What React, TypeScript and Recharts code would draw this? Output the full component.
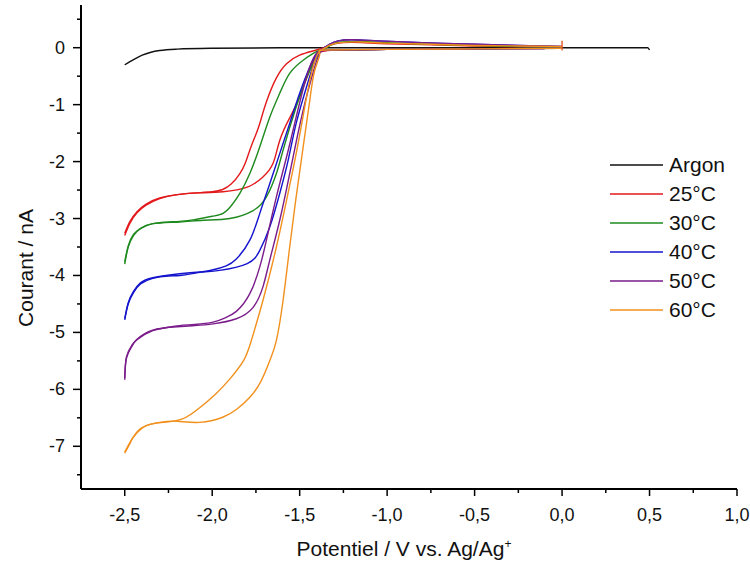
import React from "react";
import { LineChart, Line, XAxis, YAxis } from "recharts";

// potential (V vs Ag/Ag+), current (nA); branch "a" = upper/left loop, "b" = lower/right
const argon = [
  [-2.5, -0.3], [-2.45, -0.21], [-2.4, -0.13], [-2.35, -0.08], [-2.3, -0.05],
  [-2.2, -0.025], [-2.0, -0.01], [-1.5, 0], [-1.0, 0], [-0.5, 0], [0, 0], [0.49, 0], [0.5, -0.04],
];

const c25a = [
  [-2.5, -3.3], [-2.47, -3.08], [-2.43, -2.9], [-2.38, -2.77], [-2.3, -2.65], [-2.2, -2.58],
  [-2.1, -2.55], [-2.0, -2.53], [-1.94, -2.49], [-1.89, -2.39], [-1.842, -2.21], [-1.81, -2.02],
  [-1.785, -1.8], [-1.755, -1.56], [-1.728, -1.33], [-1.69, -0.95], [-1.633, -0.53], [-1.575, -0.28],
  [-1.5, -0.13], [-1.404, -0.04], [-1.34, 0.03], [-1.3, 0.07], [-1.25, 0.09], [-1.15, 0.09],
  [-1.0, 0.07], [-0.75, 0.05], [-0.5, 0.03], [-0.25, 0.02], [0, 0.01],
];
const c25b = [
  [-2.5, -3.26], [-2.47, -3.05], [-2.43, -2.88], [-2.38, -2.75], [-2.3, -2.64], [-2.186, -2.575],
  [-2.07, -2.55], [-1.938, -2.53], [-1.8, -2.45], [-1.71, -2.27], [-1.652, -2.03], [-1.614, -1.63],
  [-1.56, -1.25], [-1.5, -0.86], [-1.42, -0.22], [-1.38, -0.07], [-1.3, -0.04], [-1.0, -0.03],
  [-0.5, -0.02], [-0.1, -0.01], [0, -0.01],
];

const c30a = [
  [-2.5, -3.8], [-2.48, -3.5], [-2.45, -3.3], [-2.41, -3.18], [-2.34, -3.09], [-2.25, -3.06],
  [-2.186, -3.05], [-2.1, -3.02], [-2.0, -2.96], [-1.938, -2.91], [-1.89, -2.77], [-1.842, -2.56],
  [-1.785, -2.21], [-1.728, -1.74], [-1.671, -1.22], [-1.614, -0.8], [-1.557, -0.45], [-1.48, -0.22],
  [-1.404, -0.07], [-1.36, -0.02], [-1.32, 0.05], [-1.26, 0.1], [-1.15, 0.11], [-1.0, 0.09],
  [-0.75, 0.06], [-0.5, 0.04], [-0.25, 0.02], [0, 0.01],
];
const c30b = [
  [-2.5, -3.76], [-2.48, -3.48], [-2.45, -3.28], [-2.41, -3.17], [-2.34, -3.09], [-2.186, -3.06],
  [-2.05, -3.03], [-1.9, -3.0], [-1.766, -2.86], [-1.69, -2.62], [-1.633, -2.21], [-1.595, -1.8],
  [-1.52, -1.04], [-1.442, -0.4], [-1.385, -0.07], [-1.33, -0.04], [-1.0, -0.03], [-0.5, -0.02], [0, -0.01],
];

const c40a = [
  [-2.5, -4.78], [-2.48, -4.5], [-2.45, -4.3], [-2.41, -4.15], [-2.34, -4.05], [-2.25, -4.01],
  [-2.186, -4.0], [-2.1, -3.96], [-1.995, -3.9], [-1.92, -3.83], [-1.862, -3.71], [-1.785, -3.38],
  [-1.728, -2.91], [-1.671, -2.39], [-1.614, -1.86], [-1.557, -1.33], [-1.5, -0.8], [-1.442, -0.34],
  [-1.4, -0.1], [-1.37, -0.02], [-1.33, 0.06], [-1.28, 0.12], [-1.2, 0.14], [-1.05, 0.12],
  [-0.8, 0.09], [-0.5, 0.06], [-0.25, 0.04], [0, 0.02],
];
const c40b = [
  [-2.5, -4.76], [-2.48, -4.48], [-2.45, -4.28], [-2.41, -4.13], [-2.34, -4.04], [-2.186, -3.97],
  [-2.07, -3.94], [-1.957, -3.91], [-1.8, -3.79], [-1.728, -3.56], [-1.671, -3.15], [-1.614, -2.56],
  [-1.566, -1.98], [-1.52, -1.33], [-1.461, -0.69], [-1.404, -0.16], [-1.37, -0.05], [-1.3, -0.04],
  [-1.0, -0.03], [-0.5, -0.02], [0, -0.01],
];

const c50a = [
  [-2.5, -5.83], [-2.49, -5.45], [-2.46, -5.25], [-2.43, -5.13], [-2.34, -4.97], [-2.25, -4.91],
  [-2.186, -4.88], [-2.1, -4.86], [-1.995, -4.82], [-1.93, -4.75], [-1.862, -4.63], [-1.785, -4.32],
  [-1.728, -3.85], [-1.69, -3.38], [-1.633, -2.62], [-1.575, -1.92], [-1.52, -1.22], [-1.461, -0.51],
  [-1.41, -0.12], [-1.37, -0.02], [-1.33, 0.06], [-1.28, 0.12], [-1.2, 0.14], [-1.05, 0.12],
  [-0.8, 0.09], [-0.5, 0.06], [-0.25, 0.04], [0, 0.02],
];
const c50b = [
  [-2.5, -5.8], [-2.49, -5.43], [-2.46, -5.23], [-2.43, -5.12], [-2.34, -4.96], [-2.2, -4.9],
  [-2.1, -4.88], [-1.995, -4.85], [-1.862, -4.76], [-1.766, -4.56], [-1.71, -4.2], [-1.671, -3.73],
  [-1.614, -3.03], [-1.557, -2.21], [-1.51, -1.51], [-1.461, -0.86], [-1.414, -0.34], [-1.38, -0.07],
  [-1.3, -0.04], [-1.0, -0.03], [-0.5, -0.02], [-0.1, -0.02],
];

const c60a = [
  [-2.5, -7.12], [-2.47, -6.95], [-2.45, -6.84], [-2.4, -6.68], [-2.35, -6.61], [-2.28, -6.58],
  [-2.17, -6.52], [-2.07, -6.32], [-1.98, -6.08], [-1.9, -5.82], [-1.82, -5.49], [-1.776, -5.14],
  [-1.71, -4.44], [-1.633, -3.5], [-1.575, -2.68], [-1.52, -1.86], [-1.471, -1.04], [-1.433, -0.45],
  [-1.395, -0.1], [-1.36, -0.01], [-1.33, 0.04], [-1.27, 0.09], [-1.15, 0.1], [-1.0, 0.08],
  [-0.75, 0.06], [-0.5, 0.04], [-0.25, 0.03], [0, 0.02],
];
const c60b = [
  [-2.5, -7.1], [-2.47, -6.93], [-2.45, -6.83], [-2.4, -6.67], [-2.3, -6.58], [-2.2, -6.56],
  [-2.07, -6.58], [-1.94, -6.49], [-1.86, -6.35], [-1.785, -6.14], [-1.72, -5.85], [-1.67, -5.49],
  [-1.633, -5.14], [-1.595, -4.44], [-1.557, -3.5], [-1.52, -2.62], [-1.48, -1.74], [-1.442, -0.92],
  [-1.414, -0.4], [-1.385, -0.1], [-1.35, -0.04], [-1.0, -0.03], [-0.5, -0.02], [0, -0.01],
];

const spike = [[0, 0.12], [0, -0.05]];

const xTicks = [-2.5, -2.25, -2.0, -1.75, -1.5, -1.25, -1.0, -0.75, -0.5, -0.25, 0, 0.25, 0.5, 0.75, 1.0];
const yTicks = [0.5, 0, -0.5, -1, -1.5, -2, -2.5, -3, -3.5, -4, -4.5, -5, -5.5, -6, -6.5, -7, -7.5];

const series = [
  { name: "Argon", color: "#111111", branches: [argon] },
  { name: "25°C", color: "#E31A1C", branches: [c25a, c25b] },
  { name: "30°C", color: "#1E8A1E", branches: [c30a, c30b] },
  { name: "40°C", color: "#1414CC", branches: [c40a, c40b] },
  { name: "50°C", color: "#7A1C8A", branches: [c50a, c50b] },
  { name: "60°C", color: "#F2901C", branches: [c60a, c60b] },
];

const toPts = (arr: number[][]) => arr.map(([x, y]) => ({ x, y }));
const isMajor = (v: number, step: number) => Math.abs(v / step - Math.round(v / step)) < 1e-6;
const font = "'Liberation Sans', Arial, sans-serif";

const XTick = (props: any) => {
  const { x, y, payload } = props;
  const v = payload.value;
  const major = isMajor(v, 0.5);
  return (
    <g>
      <line x1={x} y1={y} x2={x} y2={y + (major ? 7 : 4)} stroke="#000" strokeWidth={1.5} />
      {major && (
        <text x={x} y={y + 32} textAnchor="middle" fontSize={18} fontFamily={font} fill="#111">
          {v.toFixed(1).replace(".", ",")}
        </text>
      )}
    </g>
  );
};

const YTick = (props: any) => {
  const { x, y, payload } = props;
  const v = payload.value;
  const major = isMajor(v, 1);
  return (
    <g>
      <line x1={x - (major ? 8 : 4)} y1={y} x2={x} y2={y} stroke="#000" strokeWidth={1.5} />
      {major && (
        <text x={x - 16} y={y + 6} textAnchor="end" fontSize={18} fontFamily={font} fill="#111">
          {String(v)}
        </text>
      )}
    </g>
  );
};

export default function App() {
  return (
    <div style={{ position: "relative", width: 750, height: 574, background: "#fff" }}>
      <style>{`body{margin:0}`}</style>
      <LineChart width={750} height={574} margin={{ top: 5, right: 13, left: 0, bottom: 0 }}>
        <XAxis
          type="number"
          dataKey="x"
          domain={[-2.75, 1.0]}
          ticks={xTicks}
          interval={0}
          allowDataOverflow
          height={85}
          tickSize={0}
          tickMargin={0}
          tickLine={false}
          tick={<XTick />}
          axisLine={{ stroke: "#000", strokeWidth: 2 }}
        />
        <YAxis
          type="number"
          dataKey="y"
          domain={[-7.75, 0.75]}
          ticks={yTicks}
          interval={0}
          allowDataOverflow
          width={81}
          tickSize={0}
          tickMargin={0}
          tickLine={false}
          tick={<YTick />}
          axisLine={{ stroke: "#000", strokeWidth: 2 }}
        />
        {series.map((s) =>
          s.branches.map((b, j) => (
            <Line
              key={s.name + j}
              data={toPts(b)}
              dataKey="y"
              type={s.name === "Argon" ? "monotone" : "natural"}
              stroke={s.color}
              strokeWidth={1.4}
              dot={false}
              activeDot={false}
              isAnimationActive={false}
            />
          ))
        )}
        <Line
          data={toPts(spike)}
          dataKey="y"
          type="linear"
          stroke="#E35A2C"
          strokeWidth={1.4}
          dot={false}
          activeDot={false}
          isAnimationActive={false}
        />
      </LineChart>
      <div
        style={{
          position: "absolute",
          left: 610,
          top: 150,
          fontFamily: font,
          fontSize: 21,
          lineHeight: "29px",
          color: "#111",
        }}
      >
        {series.map((s) => (
          <div key={s.name} style={{ display: "flex", alignItems: "center", height: 29 }}>
            <svg width={59} height={4} style={{ display: "block" }}>
              <line x1={0} y1={2} x2={53} y2={2} stroke={s.color} strokeWidth={1.5} />
            </svg>
            <span style={{ whiteSpace: "nowrap" }}>{s.name}</span>
          </div>
        ))}
      </div>
      <div
        style={{
          position: "absolute",
          left: 404,
          top: 537,
          transform: "translateX(-50%)",
          fontFamily: font,
          fontSize: 21,
          color: "#111",
          whiteSpace: "nowrap",
        }}
      >
        Potentiel / V vs. Ag/Ag<sup style={{ fontSize: 12 }}>+</sup>
      </div>
      <div
        style={{
          position: "absolute",
          left: 26,
          top: 268,
          transform: "translate(-50%, -50%) rotate(-90deg)",
          fontFamily: font,
          fontSize: 21,
          color: "#111",
          whiteSpace: "nowrap",
        }}
      >
        Courant / nA
      </div>
    </div>
  );
}
